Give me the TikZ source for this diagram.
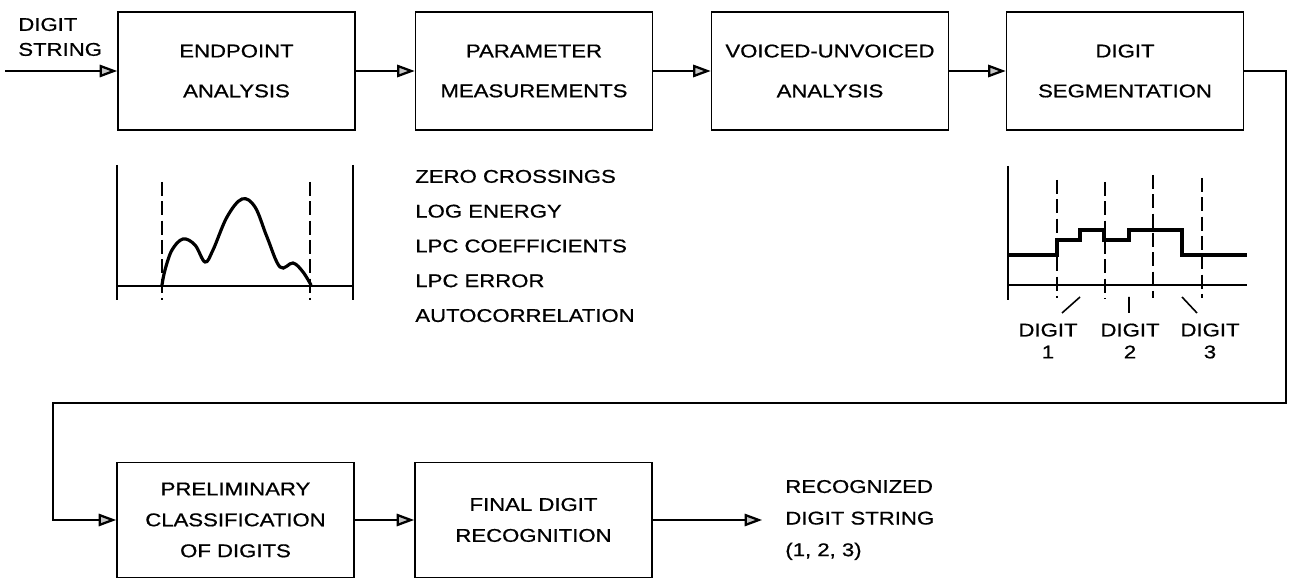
\documentclass[tikz,border=0pt]{standalone}
\usepackage{fontspec}
\setmainfont{Liberation Sans}[FakeStretch=1.2,FakeBold=0.7]
\usetikzlibrary{arrows.meta}

\begin{document}
\begin{tikzpicture}[x=0.02cm,y=-0.02cm]
		\useasboundingbox (0,0) rectangle (1294,580);
		\tikzstyle{BoxStyle}=[draw=black,line width=0.9pt,shape=rectangle,minimum width=4.74cm,minimum height=2.36cm,inner sep=0pt,align=center,font=\fontsize{10.5pt}{22.7pt}\selectfont]
		\tikzstyle{TextStyle}=[inner sep=0pt,align=left,anchor=west]
		\tikzstyle{EdgeStyle}=[line width=1.3pt,-{Triangle[length=10pt,width=7pt,fill=gray!45]}]
		% top row
		\node[BoxStyle] (EP) at (236.5,71) {ENDPOINT\\ANALYSIS};
		\node[BoxStyle] (PM) at (534,71) {PARAMETER\\MEASUREMENTS};
		\node[BoxStyle] (VU) at (830,71) {VOICED-UNVOICED\\ANALYSIS};
		\node[BoxStyle] (DS) at (1125,71) {DIGIT\\SEGMENTATION};
		% bottom row
		{
			\tikzset{BoxStyle/.append style = {minimum height=2.3cm,font=\fontsize{10.5pt}{17.6pt}\selectfont}}
			\node[BoxStyle] (PC) at (235.5,520) {PRELIMINARY\\CLASSIFICATION\\OF DIGITS};
			\node[BoxStyle] (FR) at (533.5,520) {FINAL DIGIT\\RECOGNITION};
		}
		% labels
		\node[TextStyle,font=\fontsize{10.5pt}{14.2pt}\selectfont] (StrIn) at (18,37) {DIGIT\\STRING};
		\node[TextStyle,font=\fontsize{10.5pt}{19.8pt}\selectfont] (Params) at (415,246) {ZERO CROSSINGS\\LOG ENERGY\\LPC COEFFICIENTS\\LPC ERROR\\AUTOCORRELATION};
		\node[TextStyle,font=\fontsize{10.5pt}{18pt}\selectfont] (Rec) at (785,520) {RECOGNIZED\\DIGIT STRING\\(1, 2, 3)};
		{
			\tikzset{TextStyle/.append style = {align=center,anchor=center,font=\fontsize{10.5pt}{12.5pt}\selectfont}}
			\node[TextStyle] (D1) at (1048,341) {DIGIT\\1};
			\node[TextStyle] (D2) at (1130,341) {DIGIT\\2};
			\node[TextStyle] (D3) at (1210,341) {DIGIT\\3};
		}
		% connectors
		\coordinate (In) at (5,71);
		\coordinate (R) at (1286,403);
		\coordinate (L) at (53,403);
		\draw[EdgeStyle] (In) -- (EP);
		\draw[EdgeStyle] (EP) -- (PM);
		\draw[EdgeStyle] (PM) -- (VU);
		\draw[EdgeStyle] (VU) -- (DS);
		\draw[EdgeStyle] (DS.east) -| (R) -- (L) |- (PC.west);
		\draw[EdgeStyle] (PC) -- (FR);
		\draw[EdgeStyle,shorten >=13pt] (FR.east) -- (Rec.west);
		% endpoint sketch
		\draw[line width=0.9pt] (117,165) -- (117,300) (353,165) -- (353,300) (117,286) -- (353,286);
		\draw[line width=0.9pt,dash pattern=on 8pt off 3pt] (162,182) -- (162,300) (310,182) -- (310,300);
		\draw[line width=1.8pt,line cap=round] plot[smooth,tension=0.6] coordinates {(162,285) (165,270) (172,250) (183,239) (195,245) (205,262) (213,250) (227,217) (242,199) (255,207) (267,237) (280,267) (293,263) (303,272) (311,285)};
		% segmentation sketch
		\draw[line width=0.9pt] (1008,166) -- (1008,300) (1008,285) -- (1247,285);
		\draw[line width=1.8pt] (1008,255) -- (1057,255) -- (1057,240) -- (1080,240) -- (1080,230) -- (1104,230) -- (1104,240) -- (1129,240) -- (1129,230) -- (1182,230) -- (1182,255) -- (1247,255);
		\foreach \x/\t in {1057/180,1105/182,1153/175,1202/178}
			\draw[line width=0.9pt,dash pattern=on 8pt off 3pt] (\x,\t) -- (\x,298);
		\draw[line width=0.9pt] (1080,297) -- (1062,313) (1129,297) -- (1129,313) (1182,297) -- (1197,313);
	\end{tikzpicture}
\end{document}
